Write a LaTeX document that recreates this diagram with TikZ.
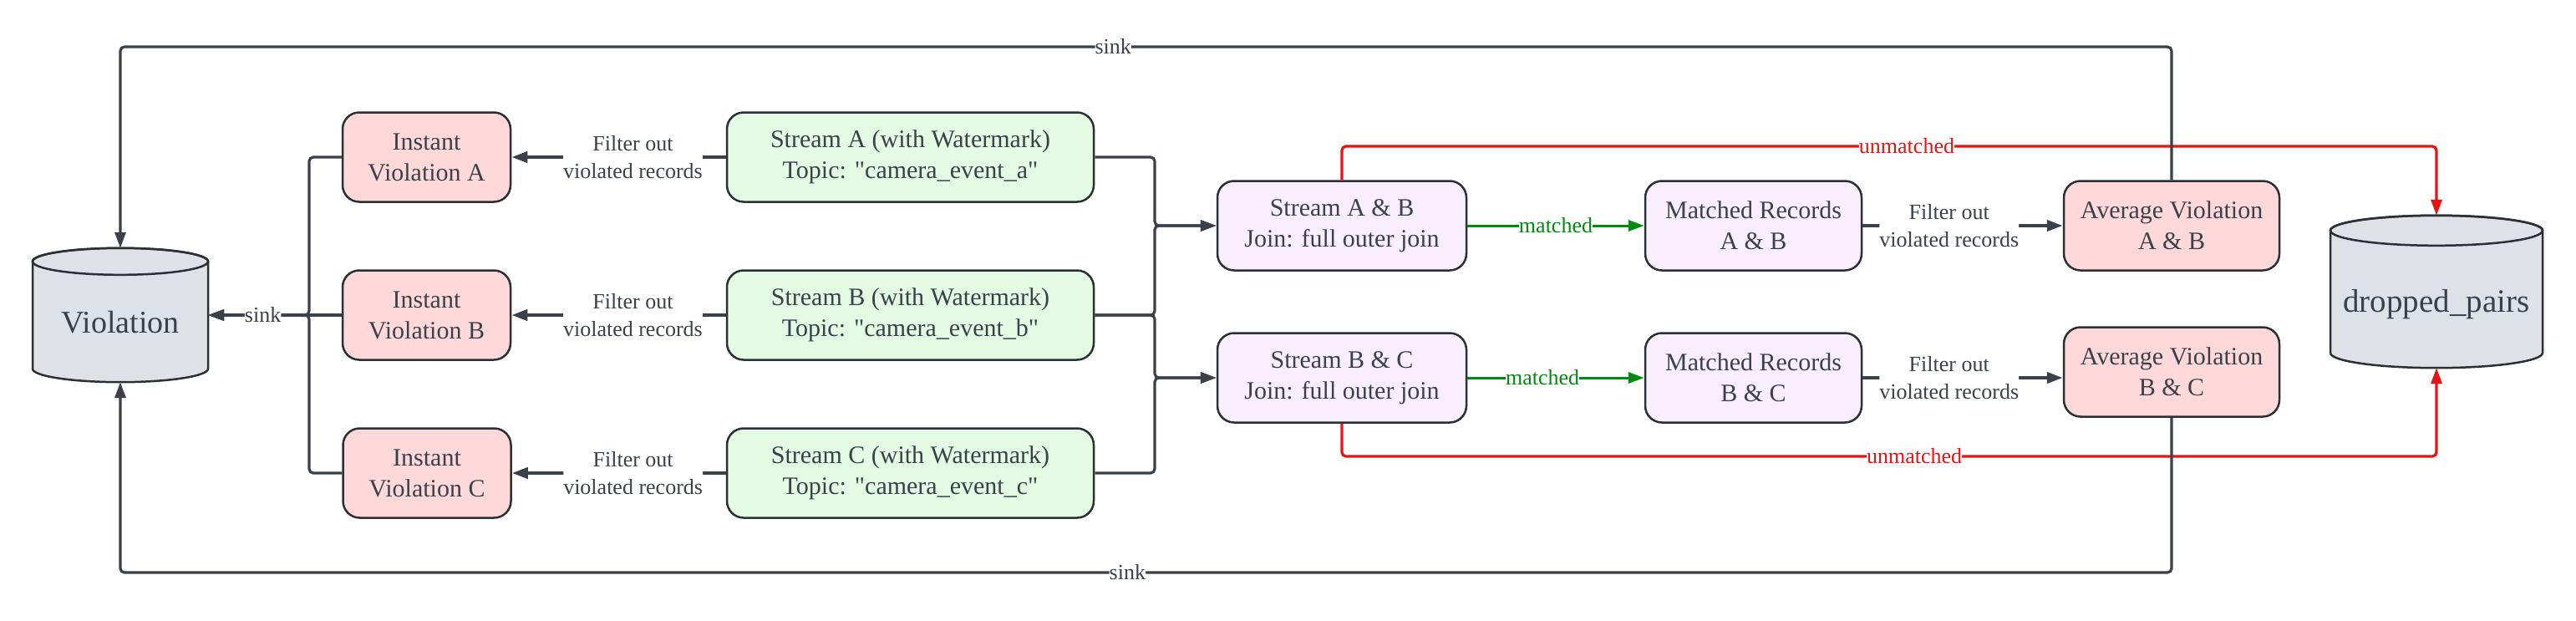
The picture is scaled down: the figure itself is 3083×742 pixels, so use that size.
\documentclass[tikz,border=0pt]{standalone}
\usepackage{fontspec}
\setmainfont{Liberation Serif}
\usetikzlibrary{arrows.meta,calc,backgrounds}
\definecolor{ink}{HTML}{3A414A}
\definecolor{edge}{HTML}{2B2F36}
\definecolor{pinkf}{HTML}{FFD9D9}
\definecolor{greenf}{HTML}{E3FAE3}
\definecolor{purplef}{HTML}{F9EEFF}
\definecolor{cylf}{HTML}{DEE1E6}
\definecolor{redl}{HTML}{E81313}
\definecolor{greenl}{HTML}{008A0E}
\newcommand{\qq}{\textquotedbl}
\begin{document}
\begin{tikzpicture}[x=1pt,y=-1pt,
  box/.style={draw=edge, line width=2.5pt, rounded corners=20pt, align=center, text=ink,
    font=\fontsize{30}{37}\selectfont, inner sep=0pt, minimum height=107pt},
  pinkbox/.style={box, fill=pinkf},
  greenbox/.style={box, fill=greenf},
  purplebox/.style={box, fill=purplef},
  cylnode/.style={inner sep=0pt, text=ink, font=\fontsize{38}{44}\selectfont},
  conn/.style={draw=ink, line width=3.2pt, rounded corners=5pt, -{Triangle[length=19pt,width=13pt]}},
  fconn/.style={conn, line width=4pt},
  redconn/.style={draw=redl, line width=3.2pt, rounded corners=5pt, -{Triangle[length=19pt,width=13pt]}},
  grconn/.style={draw=greenl, line width=3pt, -{Triangle[length=19pt,width=13pt]}},
  lbl/.style={fill=white, inner sep=0pt, text=ink, align=center, font=\fontsize{26}{33}\selectfont},
  rlbl/.style={lbl, text=redl},
  glbl/.style={lbl, text=greenl},
]
\useasboundingbox (0,0) rectangle (3083,742);

% cylinders (nodes)
\node[cylnode, minimum width=210pt, minimum height=160pt] (viol) at (144,377) {\raisebox{-9pt}[\height][\depth]{Violation}};
\node[cylnode, minimum width=254pt, minimum height=182pt, font=\fontsize{39}{45}\selectfont] (drop) at (2916,349) {\raisebox{-15pt}[\height][\depth]{dropped\_pairs}};
\begin{scope}[on background layer]
  \fill[white] (0,0) rectangle (3083,742);
  \path (viol.north) ++(0,16) coordinate (vt);
  \path (viol.south) ++(0,-16) coordinate (vb);
  \filldraw[fill=cylf, draw=edge, line width=2.5pt]
    ($(vt)+(-105,0)$) -- ($(vb)+(-105,0)$)
    arc[start angle=180, end angle=360, x radius=105pt, y radius=16pt]
    -- ($(vt)+(105,0)$)
    arc[start angle=0, end angle=180, x radius=105pt, y radius=16pt] -- cycle;
  \draw[edge, line width=2.5pt] (vt) ellipse[x radius=105pt, y radius=16pt];
  \path (drop.north) ++(0,18) coordinate (dt);
  \path (drop.south) ++(0,-18) coordinate (db);
  \filldraw[fill=cylf, draw=edge, line width=2.5pt]
    ($(dt)+(-127,0)$) -- ($(db)+(-127,0)$)
    arc[start angle=180, end angle=360, x radius=127pt, y radius=18pt]
    -- ($(dt)+(127,0)$)
    arc[start angle=0, end angle=180, x radius=127pt, y radius=18pt] -- cycle;
  \draw[edge, line width=2.5pt] (dt) ellipse[x radius=127pt, y radius=18pt];
\end{scope}

% boxes
\node[pinkbox, minimum width=201pt] (iA) at (510.5,188) {Instant\\Violation A};
\node[pinkbox, minimum width=201pt] (iB) at (510.5,377) {Instant\\Violation B};
\node[pinkbox, minimum width=201pt] (iC) at (511,566) {Instant\\Violation C};

\node[greenbox, minimum width=439pt] (sA) at (1089.5,188) {Stream A (with Watermark)\\Topic: \qq camera\_event\_a\qq};
\node[greenbox, minimum width=439pt] (sB) at (1089.5,377) {Stream B (with Watermark)\\Topic: \qq camera\_event\_b\qq};
\node[greenbox, minimum width=439pt] (sC) at (1089.5,566) {Stream C (with Watermark)\\Topic: \qq camera\_event\_c\qq};

\node[purplebox, minimum width=298pt] (ab) at (1606,270) {Stream A \& B\\Join: full outer join};
\node[purplebox, minimum width=298pt] (bc) at (1606,452) {Stream B \& C\\Join: full outer join};

\node[purplebox, minimum width=259pt] (mAB) at (2098.5,270) {Matched Records\\A \& B};
\node[purplebox, minimum width=259pt] (mBC) at (2098.5,452) {Matched Records\\B \& C};

\node[pinkbox, minimum width=258pt] (aAB) at (2599,270) {Average Violation\\A \& B};
\node[pinkbox, minimum width=258pt] (aBC) at (2599,445) {Average Violation\\B \& C};

% sink connectors from instant violations
\draw[conn] (iA.west) -| (370,377) -- (viol.east);
\draw[conn] (iC.west) -| (370,377) -- (viol.east);
\draw[conn] (iB.west) -- node[pos=0.59, lbl]{sink} (viol.east);

% filter arrows streams -> instant
\draw[fconn] (sA.west) -- node[pos=0.434, lbl]{Filter out\\violated records} (iA.east);
\draw[fconn] (sB.west) -- node[pos=0.434, lbl]{Filter out\\violated records} (iB.east);
\draw[fconn] (sC.west) -- node[pos=0.434, lbl]{Filter out\\violated records} (iC.east);

% streams -> joins
\draw[conn] (sA.east) -| (1382,270) -- (ab.west);
\draw[conn] (sB.east) -| (1382,270) -- (ab.west);
\draw[conn] (sB.east) -| (1382,452) -- (bc.west);
\draw[conn] (sC.east) -| (1382,452) -- (bc.west);

% matched
\draw[grconn] (ab.east) -- node[pos=0.5, glbl]{matched} (mAB.west);
\draw[grconn] (bc.east) -- node[pos=0.425, glbl]{matched} (mBC.west);

% filter matched -> average
\draw[fconn] (mAB.east) -- node[pos=0.432, lbl]{Filter out\\violated records} (aAB.west);
\draw[fconn] (mBC.east) -- node[pos=0.432, lbl]{Filter out\\violated records} (mBC.east -| aBC.west);

% unmatched
\draw[redconn] (ab.north) -- (ab.north |- 0,175) -- node[pos=0.516, rlbl]{unmatched} (drop.north |- 0,175) -- (drop.north);
\draw[redconn] (bc.south) -- (bc.south |- 0,546) -- node[pos=0.523, rlbl]{unmatched} (drop.south |- 0,546) -- (drop.south);

% average -> violation sink
\draw[conn] (aAB.north) -- (aAB.north |- 0,56) -- node[pos=0.516, lbl]{sink} (viol.north |- 0,56) -- (viol.north);
\draw[conn] (aBC.south) -- (aBC.south |- 0,685) -- node[pos=0.509, lbl]{sink} (viol.south |- 0,685) -- (viol.south);
\end{tikzpicture}
\end{document}
